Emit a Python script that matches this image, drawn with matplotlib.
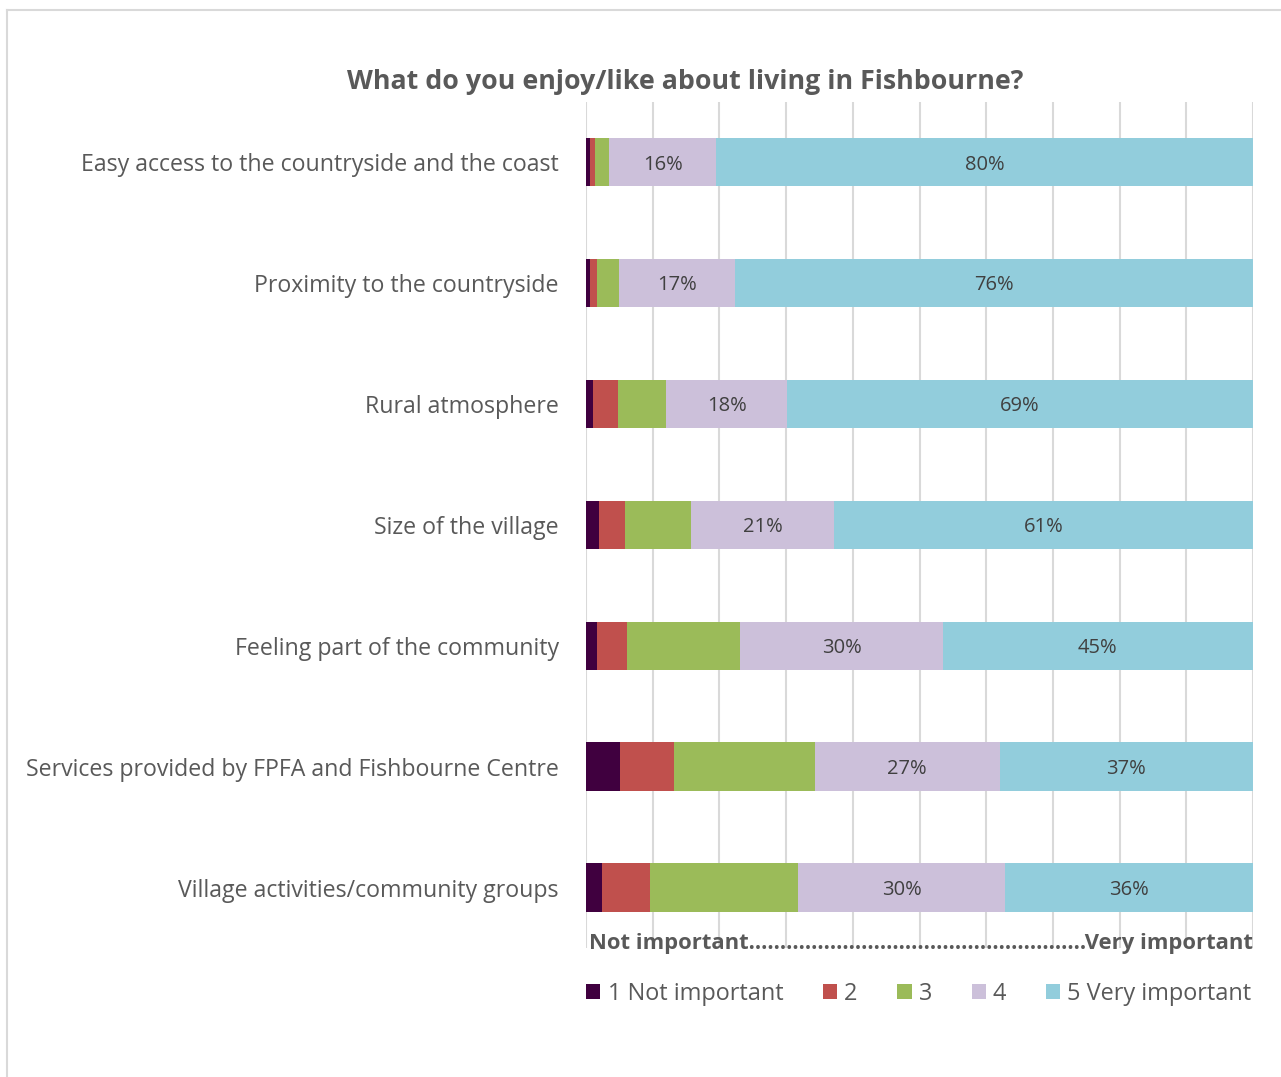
import matplotlib
matplotlib.use("Agg")
import matplotlib.pyplot as plt
import numpy as np
from matplotlib.patches import Patch
from matplotlib.lines import Line2D

plt.rcParams['font.family'] = ['Open Sans', 'DejaVu Sans']

categories = [
    "Easy access to the countryside and the coast",
    "Proximity to the countryside",
    "Rural atmosphere",
    "Size of the village",
    "Feeling part of the community",
    "Services provided by FPFA and Fishbourne Centre",
    "Village activities/community groups",
]
series_names = ["1 Not important", "2", "3", "4", "5 Very important"]
s1 = [0.6, 0.6, 1.0, 1.9, 1.6, 4.9, 2.3]
s2 = [0.75, 1.0, 3.7, 3.8, 4.4, 7.9, 7.0]
s3 = [2.1, 3.3, 7.2, 9.7, 16.6, 20.5, 21.5]
s4 = [16.0, 17.0, 18.0, 20.9, 29.6, 27.0, 30.0]
s5 = [80.0, 76.2, 69.2, 61.4, 45.4, 36.9, 36.0]
colors = ["#40003F", "#C0504D", "#9BBB59", "#CCC0DA", "#92CDDC"]
labelled = [False, False, False, True, True]

raw = np.array([s1, s2, s3, s4, s5], dtype=float)
share = raw / raw.sum(axis=0) * 100

W, H = 1281, 1077
fig = plt.figure(figsize=(W / 100, H / 100), dpi=100)
ax = fig.add_axes([586 / W, 1 - 948 / H, (1253 - 586) / W, (948 - 101.7) / H])

y = np.arange(len(categories))
left = np.zeros(len(categories))
for i in range(5):
    ax.barh(y, share[i], left=left, height=0.4, color=colors[i],
            edgecolor='none', zorder=3, label=series_names[i])
    if labelled[i]:
        for j in range(len(categories)):
            ax.text(left[j] + share[i][j] / 2, y[j] + 0.02, f"{raw[i][j]:.0f}%",
                    ha='center', va='center', fontsize=14.5, color='#404040', zorder=4)
    left += share[i]

ax.set_xlim(0, 100)
ax.set_ylim(len(categories) - 0.5, -0.5)
ax.set_xticks(np.arange(0, 101, 10))
ax.tick_params(axis='x', length=0, labelbottom=False)
ax.tick_params(axis='y', length=0, pad=19.5)
ax.set_yticks(y)
ax.set_yticklabels(categories, fontsize=16.7, color='#595959')
ax.grid(axis='x', color='#D9D9D9', linewidth=1.5, zorder=0)
for s in ax.spines.values():
    s.set_visible(False)

fig.text(685 / W, 1 - 82 / H, "What do you enjoy/like about living in Fishbourne?",
         ha='center', va='center', fontsize=19.3, fontweight='bold', color='#595959')

fig.text(589 / W, 1 - 943 / H, "Not important" + "." * 54 + "Very important",
         ha='left', va='center', fontsize=15.8, fontweight='bold', color='#595959')

handles = [Patch(facecolor=c, edgecolor='none') for c in colors]
fig.legend(handles, series_names, loc='center', bbox_to_anchor=(919 / W, 1 - 994 / H),
           ncol=5, frameon=False, fontsize=16.9, labelcolor='#595959',
           handlelength=0.6, handleheight=0.6, handletextpad=0.3, columnspacing=1.7)

# chart border (top and left visible)
fig.add_artist(Line2D([7 / W, 7 / W], [0, 1 - 10 / H], transform=fig.transFigure,
                      color='#D9D9D9', linewidth=1.5))
fig.add_artist(Line2D([7 / W, 1], [1 - 10 / H, 1 - 10 / H], transform=fig.transFigure,
                      color='#D9D9D9', linewidth=1.5))

fig.savefig("out.png", dpi=100, facecolor='white')
